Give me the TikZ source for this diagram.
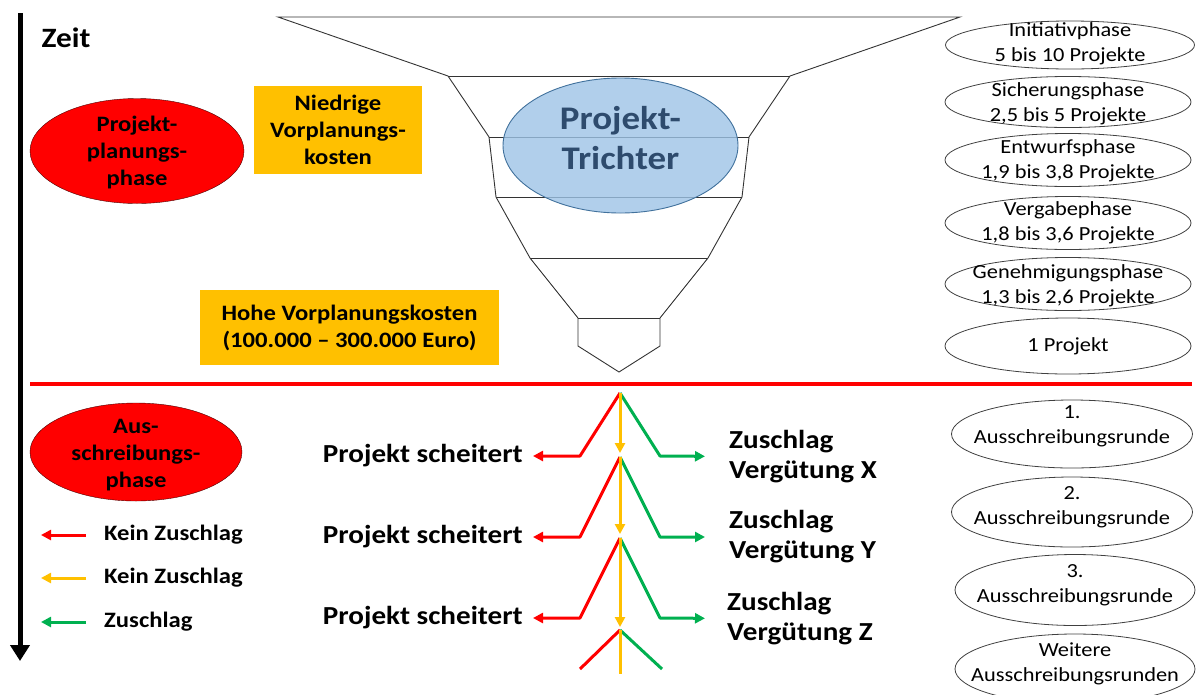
\documentclass[tikz,border=0pt]{standalone}
\usepackage{fontspec}
\setmainfont{Carlito}[FakeStretch=1.12]
\usetikzlibrary{shapes.geometric, arrows.meta, positioning}

\definecolor{ampelrot}{HTML}{FF0000}
\definecolor{ampelgelb}{HTML}{FFC000}
\definecolor{ampelgruen}{HTML}{00B050}
\definecolor{trichterblau}{HTML}{9DC3E6}
\definecolor{trichterrand}{HTML}{41719C}
\definecolor{trichterschrift}{HTML}{2E4B6D}

\newcommand\fsbold{\fontsize{22}{27}\selectfont\bfseries}
\newcommand\fstree{\fontsize{26}{30}\selectfont\bfseries}
\newcommand\fsring{\fontsize{20}{25}\selectfont}
\newcommand\fstrichter{\fontsize{33}{40}\selectfont\bfseries}
\newcommand\fszeit{\fontsize{28}{32}\selectfont\bfseries}

\begin{document}
\begin{tikzpicture}[x=1pt, y=-1pt,
   phasering/.style = {ellipse, draw=black!75, line width=0.8pt, inner sep=0pt},
   ringtext/.style  = {align=center, font=\fsring, inner sep=0pt},
   redphase/.style  = {ellipse, draw=black!70!red, fill=ampelrot, inner sep=0pt},
   phasetext/.style = {align=center, font=\fsbold, inner sep=0pt},
   costbox/.style   = {fill=ampelgelb, align=center, font=\fsbold, inner sep=0pt},
   failtext/.style  = {anchor=east, font=\fstree, inner sep=0pt, inner xsep=10pt},
   wintext/.style   = {anchor=west, align=left, font=\fstree, inner sep=0pt, inner xsep=24pt},
   keytext/.style   = {anchor=west, font=\fsbold, inner sep=0pt},
   funnel/.style    = {black!80, line width=0.9pt},
   ast/.style       = {line width=3pt},
   redline/.style   = {ast, draw=ampelrot},
   greenline/.style = {ast, draw=ampelgruen},
   yellowline/.style= {ast, draw=ampelgelb},
   pfeil/.style     = {-{Triangle[width=10pt,length=10pt]}}]
   \useasboundingbox (0,0) rectangle (1201,694);

   % Zeitachse
   \coordinate (zeit-start) at (20,13);
   \coordinate (zeit-ende)  at (20,661);
   \draw[line width=5pt, -{Triangle[width=19pt,length=16pt]}] (zeit-start) -- (zeit-ende);
   \node[font=\fszeit, inner sep=0pt] (zeit) at (66,38) {Zeit};

   % Trennlinie
   \coordinate (trenn-l) at (30,384);
   \coordinate (trenn-r) at (1192,384);
   \draw[ampelrot, line width=4pt] (trenn-l) -- (trenn-r);

   % Trichter
   \draw[funnel] (278,17) -- (960,17) -- (790,76) -- (749,137) -- (742,197)
      -- (708,258) -- (660,318) -- (660,346) -- (619,372) -- (578,346)
      -- (578,318) -- (530,258) -- (496,197) -- (489,137) -- (448,76) -- cycle;
   \foreach \y/\w in {76/171, 137/130, 197/123, 258/89, 318/41}
      \draw[funnel] (619-\w,\y) -- (619+\w,\y);

   \node[ellipse, minimum width=235pt, minimum height=135pt, inner sep=0pt,
         fill=trichterblau, fill opacity=0.8, draw=trichterrand, line width=0.9pt]
         (trichter) at (620.5,145.5) {};
   \node[font=\fstrichter, text=trichterschrift, align=center, inner sep=0pt]
         (trichter-txt) at ([yshift=7pt]trichter.center) {Projekt-\\Trichter};

   % Phasen
   \node[redphase, minimum width=214pt, minimum height=105pt] (planung) at (137,151) {};
   \node[phasetext] (planung-txt) at ([yshift=-2pt]planung.center) {Projekt-\\planungs-\\phase};
   \node[redphase, minimum width=212pt, minimum height=98pt] (ausschr) at (136,452) {};
   \node[phasetext] (ausschr-txt) at ([yshift=-3pt]ausschr.center) {Aus-\\schreibungs-\\phase};

   \node[costbox, minimum width=168pt, minimum height=88pt] (niedrig) at (338,130)
        {Niedrige\\Vorplanungs-\\kosten};
   \node[costbox, minimum width=299pt, minimum height=75pt] (hoch) at (349.5,327.5)
        {Hohe Vorplanungskosten\\(100.000 – 300.000 Euro)};

   \node[phasering, minimum width=249pt, minimum height=48pt] (ini) at (1070,45) {};
   \node[phasering, minimum width=246pt, minimum height=51pt] (sich) at (1068,102) {};
   \node[phasering, minimum width=246pt, minimum height=53pt] (entw) at (1068,160) {};
   \node[phasering, minimum width=246pt, minimum height=53pt] (verg) at (1068,223) {};
   \node[phasering, minimum width=246pt, minimum height=53pt] (gen) at (1068,284) {};
   \node[phasering, minimum width=246pt, minimum height=56pt] (eins) at (1068,346) {};
   \node[ringtext] (ini-txt)  at ([yshift=1pt]ini.center)   {Initiativphase\\5 bis 10 Projekte};
   \node[ringtext] (sich-txt) at ([yshift=-2pt]sich.center) {Sicherungsphase\\2,5 bis 5 Projekte};
   \node[ringtext] (entw-txt) at ([yshift=-1pt]entw.center) {Entwurfsphase\\1,9 bis 3,8 Projekte};
   \node[ringtext] (verg-txt) at (verg.center)              {Vergabephase\\1,8 bis 3,6 Projekte};
   \node[ringtext] (gen-txt)  at ([yshift=-2pt]gen.center)  {Genehmigungsphase\\1,3 bis 2,6 Projekte};
   \node[ringtext] (eins-txt) at (eins) {1 Projekt};

   \node[phasering, minimum width=241pt, minimum height=68pt] (runde1) at (1072,434) {};
   \node[phasering, minimum width=241pt, minimum height=70pt] (runde2) at (1072,512) {};
   \node[phasering, minimum width=240pt, minimum height=71pt] (runde3) at (1075,590) {};
   \node[phasering, minimum width=240pt, minimum height=70pt] (weitere) at (1075,669) {};
   \node[ringtext] (runde1-txt)  at ([yshift=8pt]runde1.center)  {1.\\Ausschreibungsrunde};
   \node[ringtext] (runde2-txt)  at ([yshift=5pt]runde2.center)  {2.\\Ausschreibungsrunde};
   \node[ringtext] (runde3-txt)  at ([yshift=5pt]runde3.center)  {3.\\Ausschreibungsrunde};
   \node[ringtext] (weitere-txt) at ([yshift=5pt]weitere.center) {Weitere\\Ausschreibungsrunden};

   % Legende
   \node[keytext] (key-rot)   at (104,535) {Kein Zuschlag};
   \node[keytext] (key-gelb)  at (104,578) {Kein Zuschlag};
   \node[keytext] (key-gruen) at (104,622) {Zuschlag};
   \draw[redline, pfeil]    ([xshift=-18pt]key-rot.west)   -- ([xshift=-63pt]key-rot.west);
   \draw[yellowline, pfeil] ([xshift=-18pt]key-gelb.west)  -- ([xshift=-63pt]key-gelb.west);
   \draw[greenline, pfeil]  ([xshift=-18pt]key-gruen.west) -- ([xshift=-63pt]key-gruen.west);

   % Ausschreibungsbaum
   \coordinate (a1) at (620,393);
   \coordinate (a2) at (620,457);
   \coordinate (a3) at (620,538);
   \coordinate (a4) at (620,630);
   \coordinate (r1) at (580,456);
   \coordinate (r2) at (580,537);
   \coordinate (r3) at (580,618);
   \coordinate (g1) at (660,456);
   \coordinate (g2) at (660,537);
   \coordinate (g3) at (660,618);
   \coordinate (rb) at (580,669);
   \coordinate (gb) at (662,669);
   \coordinate (yb) at (620,674);

   \node[failtext] (fail1) at (533,456) {Projekt scheitert};
   \node[failtext] (fail2) at (533,537) {Projekt scheitert};
   \node[failtext] (fail3) at (533,618) {Projekt scheitert};
   \node[wintext] (win1) at (705,457) {Zuschlag\\Vergütung X};
   \node[wintext] (win2) at (705,537) {Zuschlag\\Vergütung Y};
   \node[wintext, inner xsep=22pt] (win3) at (705,619) {Zuschlag\\Vergütung Z};

   \draw[redline, pfeil, line join=round] (a1) -- (r1) -- (fail1);
   \draw[redline, pfeil, line join=round] (a2) -- (r2) -- (fail2);
   \draw[redline, pfeil, line join=round] (a3) -- (r3) -- (fail3);
   \draw[greenline, pfeil, line join=round] (a1) -- (g1) -- (win1);
   \draw[greenline, pfeil, line join=round] (a2) -- (g2) -- (win2);
   \draw[greenline, pfeil, line join=round] (a3) -- (g3) -- (win3);
   \draw[redline] (a4) -- (rb);
   \draw[greenline] (a4) -- (gb);
   \draw[yellowline, pfeil, shorten >=4pt] (a1) -- (a2);
   \draw[yellowline, pfeil, shorten >=4pt] (a2) -- (a3);
   \draw[yellowline, pfeil, shorten >=3pt] (a3) -- (a4);
   \draw[yellowline] (a4) -- (yb);
\end{tikzpicture}
\end{document}
